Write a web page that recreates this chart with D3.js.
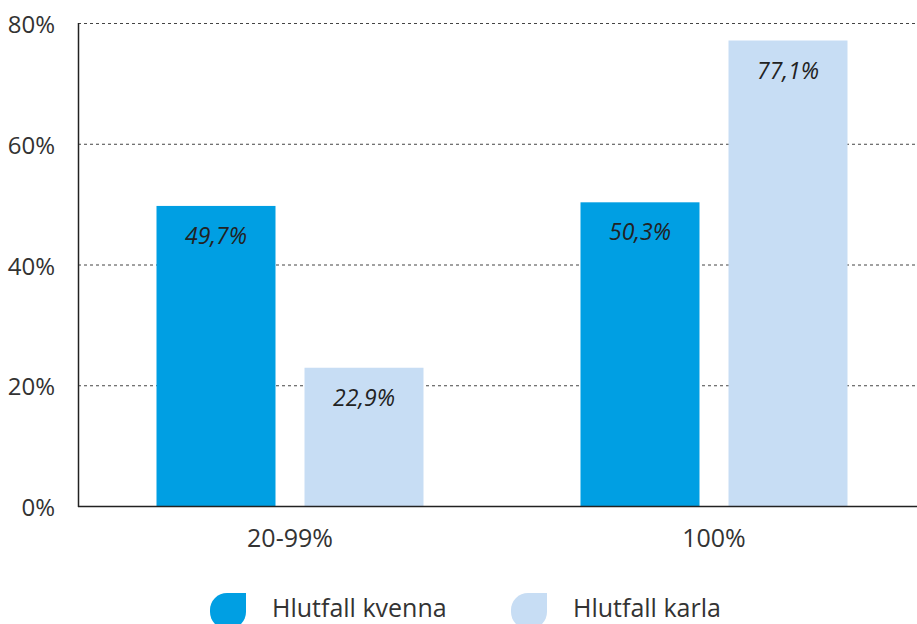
<!DOCTYPE html>
<html>
<head>
<meta charset="utf-8">
<script src="https://cdn.jsdelivr.net/npm/d3@7"></script>
<style>
  body { margin: 0; background: #fff; }
  svg text { font-family: "Open Sans", "Noto Sans", sans-serif; }
</style>
</head>
<body>
<div id="chart"></div>
<script>
// Chart data
var categories = ['20-99%', '100%'];
var seriesNames = ['Hlutfall kvenna', 'Hlutfall karla'];
var kvennaValues = [49.7, 50.3];
var karlaValues = [22.9, 77.1];
var yTicks = [0, 20, 40, 60, 80];

var seriesColors = ['#009fe3', '#c7ddf4'];

var width = 917, height = 624;
var margin = { left: 78, top: 23, bottom: 118 };
var plotBottom = height - margin.bottom; // 506

var rows = categories.map(function(c, i) {
    return { cat: c, values: [kvennaValues[i], karlaValues[i]] };
});

var svg = d3.select('#chart').append('svg')
    .attr('width', width)
    .attr('height', height);

var y = d3.scaleLinear().domain([0, 80]).range([plotBottom, margin.top]);
var x0 = d3.scaleBand().domain(categories).range([margin.left, 926]).padding(0);
var x1 = d3.scaleBand().domain(seriesNames).range([0, 267]).paddingInner(0.196).paddingOuter(0);
var groupOffset = (x0.bandwidth() - 267) / 2;

// dashed gridlines
svg.append('g')
    .selectAll('line')
    .data(yTicks.filter(function(t) { return t > 0; }))
    .enter().append('line')
        .attr('x1', margin.left)
        .attr('x2', width)
        .attr('y1', function(d) { return y(d) + 0.5; })
        .attr('y2', function(d) { return y(d) + 0.5; })
        .style('stroke', '#444')
        .style('stroke-width', 1)
        .style('stroke-dasharray', '3,3');

// y tick labels
svg.append('g')
    .selectAll('text')
    .data(yTicks)
    .enter().append('text')
        .attr('x', 55)
        .attr('y', function(d) { return y(d) + 10; })
        .attr('text-anchor', 'end')
        .style('font-size', '24px')
        .style('fill', '#333')
        .text(function(d) { return d + '%'; });

// bars
var groups = svg.append('g')
    .selectAll('g')
    .data(rows)
    .enter().append('g')
        .attr('transform', function(d) { return 'translate(' + (x0(d.cat) + groupOffset) + ',0)'; });

var cells = groups.selectAll('g')
    .data(function(d) { return d.values.map(function(v, i) { return { v: v, s: seriesNames[i], i: i }; }); })
    .enter().append('g');

cells.append('rect')
    .attr('x', function(d) { return x1(d.s); })
    .attr('y', function(d) { return y(d.v); })
    .attr('width', x1.bandwidth())
    .attr('height', function(d) { return plotBottom - y(d.v); })
    .style('fill', function(d) { return seriesColors[d.i]; });

cells.append('text')
    .attr('x', function(d) { return x1(d.s) + x1.bandwidth() / 2; })
    .attr('y', function(d) { return y(d.v) + 38; })
    .attr('text-anchor', 'middle')
    .style('font-size', '23px')
    .style('font-style', 'italic')
    .style('fill', '#222')
    .text(function(d) { return d.v.toFixed(1).replace('.', ',') + '%'; });

// axes lines
svg.append('line')
    .attr('x1', margin.left + 0.5).attr('x2', margin.left + 0.5)
    .attr('y1', margin.top).attr('y2', plotBottom + 1)
    .style('stroke', '#222').style('stroke-width', 1.5);
svg.append('line')
    .attr('x1', margin.left).attr('x2', width)
    .attr('y1', plotBottom + 0.5).attr('y2', plotBottom + 0.5)
    .style('stroke', '#222').style('stroke-width', 1.5);

// category labels
svg.append('g')
    .selectAll('text')
    .data(categories)
    .enter().append('text')
        .attr('x', function(d) { return x0(d) + x0.bandwidth() / 2; })
        .attr('y', 547)
        .attr('text-anchor', 'middle')
        .style('font-size', '25px')
        .style('fill', '#333')
        .text(function(d) { return d; });

// legend
var legendX = [210, 511];
var legend = svg.append('g')
    .selectAll('g')
    .data(seriesNames)
    .enter().append('g')
        .attr('transform', function(d, i) { return 'translate(' + legendX[i] + ',593)'; });

function leafPath(w, h, r) {
    return 'M' + r + ',0 H' + w + ' V' + (h - r) +
        ' A' + r + ',' + r + ' 0 0 1 ' + (w - r) + ',' + h +
        ' H' + r + ' A' + r + ',' + r + ' 0 0 1 0,' + (h - r) +
        ' V' + r + ' A' + r + ',' + r + ' 0 0 1 ' + r + ',0 Z';
}

legend.append('path')
    .attr('d', leafPath(36, 36, 17))
    .style('fill', function(d, i) { return seriesColors[i]; });

legend.append('text')
    .attr('x', 62)
    .attr('y', 24)
    .style('font-size', '25px')
    .style('fill', '#333')
    .text(function(d) { return d; });
</script>
</body>
</html>
